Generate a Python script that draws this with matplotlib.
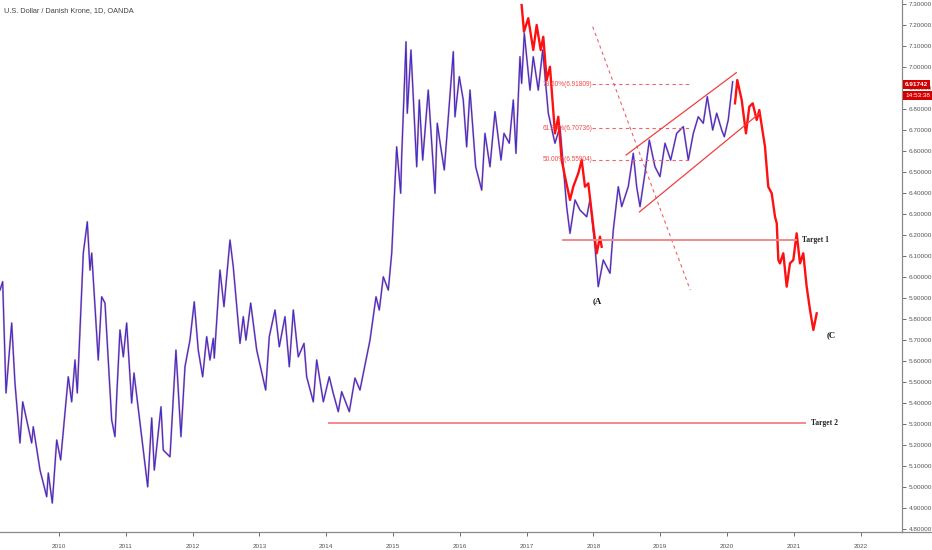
import matplotlib
matplotlib.use("Agg")
import matplotlib.pyplot as plt

# USD/DKK daily, swing points (decimal year, price)
usd_dkk_dates = [
    2009.117, 2009.157, 2009.207, 2009.292, 2009.341, 2009.416, 2009.457, 2009.591, 2009.615, 2009.716,
    2009.816, 2009.840, 2009.900, 2009.966, 2010.025, 2010.139, 2010.190, 2010.240, 2010.274, 2010.364,
    2010.424, 2010.464, 2010.490, 2010.588, 2010.639, 2010.689, 2010.789, 2010.838, 2010.864, 2010.913,
    2010.963, 2011.013, 2011.088, 2011.123, 2011.213, 2011.328, 2011.388, 2011.427, 2011.527, 2011.561,
    2011.662, 2011.751, 2011.826, 2011.886, 2011.961, 2012.025, 2012.085, 2012.151, 2012.211, 2012.260,
    2012.310, 2012.325, 2012.410, 2012.470, 2012.560, 2012.609, 2012.710, 2012.759, 2012.799, 2012.870,
    2012.960, 2013.094, 2013.148, 2013.234, 2013.298, 2013.383, 2013.448, 2013.508, 2013.582, 2013.668,
    2013.708, 2013.807, 2013.858, 2013.957, 2014.046, 2014.106, 2014.181, 2014.232, 2014.346, 2014.431,
    2014.506, 2014.656, 2014.746, 2014.795, 2014.855, 2014.930, 2014.981, 2015.055, 2015.115, 2015.130,
    2015.195, 2015.214, 2015.269, 2015.355, 2015.394, 2015.445, 2015.528, 2015.629, 2015.663, 2015.714,
    2015.768, 2015.903, 2015.928, 2015.993, 2016.052, 2016.103, 2016.153, 2016.238, 2016.328, 2016.377,
    2016.452, 2016.527, 2016.617, 2016.662, 2016.741, 2016.801, 2016.841, 2016.901, 2016.926, 2016.966,
    2017.051, 2017.100, 2017.175, 2017.241, 2017.325, 2017.425, 2017.500, 2017.600, 2017.650, 2017.725,
    2017.799, 2017.900, 2017.949, 2018.024, 2018.073, 2018.148, 2018.199, 2018.249, 2018.298, 2018.373,
    2018.424, 2018.522, 2018.597, 2018.648, 2018.698, 2018.772, 2018.837, 2018.922, 2018.997, 2019.072,
    2019.157, 2019.247, 2019.346, 2019.421, 2019.496, 2019.570, 2019.645, 2019.705, 2019.786, 2019.846,
    2019.921, 2019.960, 2020.019, 2020.085,
]
usd_dkk_prices = [
    5.938, 5.978, 5.448, 5.781, 5.495, 5.210, 5.406, 5.210, 5.287, 5.081,
    4.954, 5.067, 4.924, 5.224, 5.129, 5.525, 5.406, 5.605, 5.448, 6.114,
    6.263, 6.033, 6.114, 5.605, 5.906, 5.876, 5.319, 5.240, 5.430, 5.748,
    5.620, 5.781, 5.400, 5.543, 5.305, 5.001, 5.329, 5.081, 5.382, 5.176,
    5.144, 5.652, 5.240, 5.573, 5.700, 5.882, 5.652, 5.525, 5.716, 5.605,
    5.708, 5.614, 6.033, 5.859, 6.176, 6.049, 5.684, 5.811, 5.700, 5.876,
    5.652, 5.462, 5.716, 5.843, 5.668, 5.811, 5.573, 5.843, 5.620, 5.684,
    5.525, 5.406, 5.605, 5.406, 5.525, 5.446, 5.359, 5.454, 5.359, 5.519,
    5.462, 5.700, 5.906, 5.843, 6.001, 5.938, 6.113, 6.620, 6.399, 6.573,
    7.120, 6.780, 7.081, 6.525, 6.843, 6.557, 6.890, 6.399, 6.732, 6.620,
    6.510, 7.073, 6.763, 6.954, 6.843, 6.620, 6.890, 6.525, 6.414, 6.684,
    6.525, 6.787, 6.557, 6.684, 6.637, 6.843, 6.589, 7.049, 6.922, 7.160,
    6.890, 7.049, 6.890, 7.081, 6.780, 6.637, 6.716, 6.335, 6.208, 6.367,
    6.319, 6.287, 6.367, 6.144, 5.954, 6.081, 6.049, 6.018, 6.224, 6.430,
    6.335, 6.430, 6.589, 6.430, 6.335, 6.494, 6.652, 6.525, 6.478, 6.637,
    6.557, 6.684, 6.716, 6.557, 6.684, 6.763, 6.732, 6.859, 6.700, 6.780,
    6.700, 6.668, 6.748, 6.930,
]

# red bars pattern: the source leg and its projection
source_dates = [
    2016.926, 2016.961, 2017.025, 2017.100, 2017.151, 2017.211, 2017.250, 2017.301, 2017.350, 2017.425,
    2017.475, 2017.525, 2017.575, 2017.650, 2017.699, 2017.774, 2017.825, 2017.874, 2017.924, 2017.999,
    2018.050, 2018.099, 2018.124,
]
source_prices = [
    7.295, 7.168, 7.232, 7.081, 7.200, 7.081, 7.144, 6.938, 7.001, 6.684,
    6.763, 6.557, 6.478, 6.367, 6.430, 6.494, 6.557, 6.430, 6.446, 6.240,
    6.113, 6.192, 6.144,
]
projection_dates = [
    2020.120, 2020.154, 2020.220, 2020.284, 2020.334, 2020.385, 2020.445, 2020.484, 2020.569, 2020.618,
    2020.669, 2020.719, 2020.745, 2020.769, 2020.793, 2020.843, 2020.894, 2020.943, 2020.993, 2021.043,
    2021.093, 2021.142, 2021.193, 2021.243, 2021.293, 2021.343,
]
projection_prices = [
    6.827, 6.938, 6.843, 6.684, 6.811, 6.827, 6.748, 6.795, 6.620, 6.430,
    6.399, 6.287, 6.256, 6.081, 6.065, 6.113, 5.954, 6.065, 6.081, 6.208,
    6.065, 6.113, 5.954, 5.843, 5.748, 5.827,
]

fib_pcts = ["50.00%", "61.80%", "78.60%"]
fib_prices = [6.55904, 6.70736, 6.91809]
fib_span = [2017.98, 2019.45]

diag_dates = [2017.99, 2019.45]
diag_prices = [7.192, 5.938]
channel_upper_dates = [2018.49, 2020.14]
channel_upper_prices = [6.581, 6.973]
channel_lower_dates = [2018.69, 2020.49]
channel_lower_prices = [6.310, 6.780]

target_names = ["Target 1", "Target 2"]
target_prices = [6.176, 5.304]
target_starts = [2017.55, 2014.04]
target_ends = [2021.04, 2021.17]

wave_names = ["(A", "(C"]
wave_dates = [2017.99, 2021.49]
wave_prices = [5.886, 5.724]

last_price = 6.91742
countdown = "14:53:38"
years = list(range(2010, 2023))
price_ticks = [round(4.8 + 0.1 * i, 1) for i in range(26)]

plt.rcParams['font.family'] = ['Liberation Sans', 'DejaVu Sans']

fig = plt.figure(figsize=(9.32, 5.5), dpi=100)
ax = fig.add_axes([0, 18 / 550, 902 / 932, 532 / 550])

# candles look blue with red specks
ax.plot(usd_dkk_dates, usd_dkk_prices, color='#c8305a', lw=1.4, alpha=0.5)
ax.plot(usd_dkk_dates, usd_dkk_prices, color='#3030d4', lw=0.8)

ax.plot(source_dates, source_prices, color='#ff1010', lw=1.7)
ax.plot(projection_dates, projection_prices, color='#ff1010', lw=1.7)

# fib retracement
for pct, p in zip(fib_pcts, fib_prices):
    ax.plot(fib_span, [p, p], color='#f06070', lw=0.8, ls=(0, (3, 3)))
    ax.text(fib_span[0], p, f"{pct}({p:.5f})", color='#f04a4a', fontsize=4.7,
            ha='right', va='center')

ax.plot(diag_dates, diag_prices, color='#f06070', lw=0.8, ls=(0, (3, 3)))
ax.plot(channel_upper_dates, channel_upper_prices, color='#f04040', lw=0.9)
ax.plot(channel_lower_dates, channel_lower_prices, color='#f04040', lw=0.9)

for name, p, x0, x1 in zip(target_names, target_prices, target_starts, target_ends):
    ax.plot([x0, x1], [p, p], color='#f28a8a', lw=1.4)
    ax.annotate(name, (x1, p), xytext=(6, 0), textcoords='offset pixels',
                fontsize=5.5, fontweight='bold', family='Liberation Serif',
                color='#222222', ha='left', va='center')

for name, d, p in zip(wave_names, wave_dates, wave_prices):
    ax.text(d, p, name, fontsize=6.3, fontweight='bold', family='Liberation Serif',
            color='#111111', ha='left', va='center')

ax.set_xlim(2009.117, 2022.62)
ax.set_ylim(4.786, 7.319)

ax.yaxis.tick_right()
ax.set_yticks(price_ticks)
ax.set_yticklabels([f"{v:.5f}" for v in price_ticks])
ax.set_xticks(years)
ax.set_xticklabels([str(y) for y in years])
ax.tick_params(axis='both', labelsize=4.6, colors='#555555', length=3, width=0.6, pad=2)
ax.tick_params(axis='x', colors='#555555', pad=6)
for side in ['top', 'left']:
    ax.spines[side].set_visible(False)
for side in ['right', 'bottom']:
    ax.spines[side].set_color('#8a8a8a')
    ax.spines[side].set_linewidth(0.9)

# bottom rule runs on under the price scale
fig.add_artist(plt.Line2D([902 / 932, 1], [18 / 550, 18 / 550], color='#8a8a8a', lw=0.9))

# last price and countdown tags on the price scale
tf = ax.get_yaxis_transform()
ax.annotate(f"{last_price:.5f}", (1, last_price), xycoords=tf, xytext=(3, 0),
            textcoords='offset pixels', fontsize=4.6, fontweight='bold', color='white',
            ha='left', va='center', annotation_clip=False,
            bbox=dict(boxstyle='square,pad=0.35', fc='#d40000', ec='none'))
ax.annotate(countdown, (1, last_price), xycoords=tf, xytext=(3, -11),
            textcoords='offset pixels', fontsize=4.6, color='white',
            ha='left', va='center', annotation_clip=False,
            bbox=dict(boxstyle='square,pad=0.35', fc='#d40000', ec='none'))

fig.text(4 / 932, 1 - 11 / 550, "U.S. Dollar / Danish Krone, 1D, OANDA", fontsize=5.3,
         color='#444444', ha='left', va='center')

fig.savefig('out.png', dpi=100)
